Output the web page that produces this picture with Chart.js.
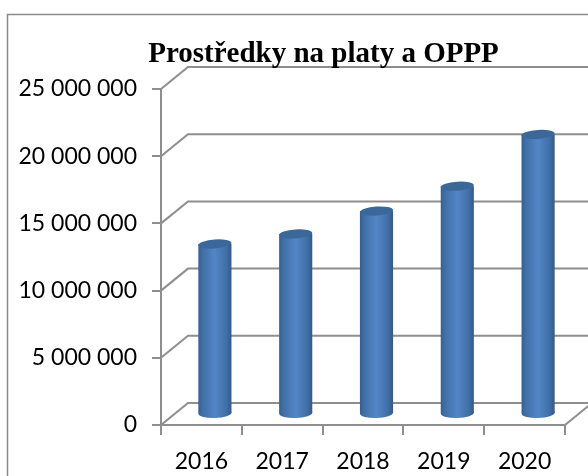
<!DOCTYPE html>
<html><head><meta charset="utf-8">
<style>html,body{margin:0;padding:0;background:#fff;overflow:hidden}canvas{display:block}</style>
<script src="https://cdn.jsdelivr.net/npm/chart.js@4/dist/chart.umd.min.js"></script>
</head><body><canvas id="c" width="588" height="476"></canvas>
<script>
const years = ['2016','2017','2018','2019','2020'];
const funds = [12650000,13400000,15100000,16950000,20800000];
const chartTitle = 'Prostředky na platy a OPPP';
const DX = 27, DY = -22, GRID = '#8e8e8e';
const fmt = v => String(v).replace(/\B(?=(\d{3})+$)/g,' ');

const frame = {
  id:'frame',
  afterLayout(ch){ if(ch.titleBlock){ ch.titleBlock.left=59; ch.titleBlock.right=588; } },
  beforeDraw(ch){
    const c=ch.ctx; c.save(); c.strokeStyle='#8a8a8a'; c.lineWidth=1.5;
    c.beginPath(); c.moveTo(7.5,480); c.lineTo(7.5,14.5); c.lineTo(590,14.5); c.stroke();
    const {x,y}=ch.scales, a=ch.chartArea;
    c.strokeStyle=GRID; c.lineWidth=2;
    y.ticks.forEach(t=>{
      const p=y.getPixelForValue(t.value);
      c.beginPath(); c.moveTo(a.left,p); c.lineTo(a.left+DX,p+DY); c.lineTo(600,p+DY); c.stroke();
    });
    c.beginPath(); c.moveTo(a.right,a.bottom); c.lineTo(a.right+DX,a.bottom+DY); c.stroke();
    c.restore();
  }
};
function grad(c,cx,w,stops){
  const g=c.createLinearGradient(cx-w/2,0,cx+w/2,0);
  stops.forEach(s=>g.addColorStop(s[0],s[1])); return g;
}
const bodyStops=[[0,'#35608f'],[0.12,'#3f6fa6'],[0.5,'#5286c6'],[0.85,'#406fa6'],[1,'#33598a']];
const cyl = {
  id:'cyl',
  beforeDatasetsDraw(ch){ ch.ctx.save(); ch.ctx.translate(DX/2,DY/2); },
  afterDatasetsDraw(ch){ const c=ch.ctx;
    ch.getDatasetMeta(0).data.forEach(b=>{
      c.fillStyle=grad(c,b.x,b.width,bodyStops); c.beginPath();
      c.ellipse(b.x,b.base,b.width/2,5,-0.03,0,Math.PI*2); c.fill();
      c.fillStyle='#3b6898'; c.beginPath();
      c.ellipse(b.x,b.y,b.width/2,4.5,-0.07,0,Math.PI*2); c.fill();
    });
    c.restore();
  }
};
new Chart(document.getElementById('c'),{
  type:'bar',
  data:{labels:years,datasets:[{
    data:funds,
    barPercentage:0.41,categoryPercentage:1,
    backgroundColor(ctx){
      const ch=ctx.chart; if(!ch.chartArea) return '#4f81bd';
      const step=ch.chartArea.width/years.length;
      const cx=ch.scales.x.getPixelForValue(ctx.dataIndex);
      return grad(ch.ctx,cx,step*0.41,bodyStops);
    }
  }]},
  options:{
    responsive:false,animation:false,
    layout:{padding:{left:0,right:23,top:0,bottom:0}},
    plugins:{legend:{display:false},tooltip:{enabled:false},
      title:{display:true,text:chartTitle,color:'#000',
        font:{family:'Liberation Serif',size:29,weight:'bold',lineHeight:1},
        padding:{top:40,bottom:20}}},
    scales:{
      x:{
        grid:{display:true,drawOnChartArea:false,drawTicks:true,tickLength:10,color:GRID,lineWidth:2,offset:true},
        border:{display:true,color:GRID,width:2},
        ticks:{color:'#000',font:{family:'Lato',size:23},padding:13,maxRotation:0},
        afterFit(s){s.height=51;}
      },
      y:{
        min:0,max:25000000,
        grid:{display:true,drawOnChartArea:false,drawTicks:true,tickLength:9,color:GRID,lineWidth:2},
        border:{display:true,color:GRID,width:2},
        ticks:{stepSize:5000000,color:'#000',font:{family:'Lato',size:23},padding:15,callback:v=>fmt(v)},
        afterFit(s){s.width=161;}
      }
    }
  },
  plugins:[frame,cyl]
});
</script></body></html>
